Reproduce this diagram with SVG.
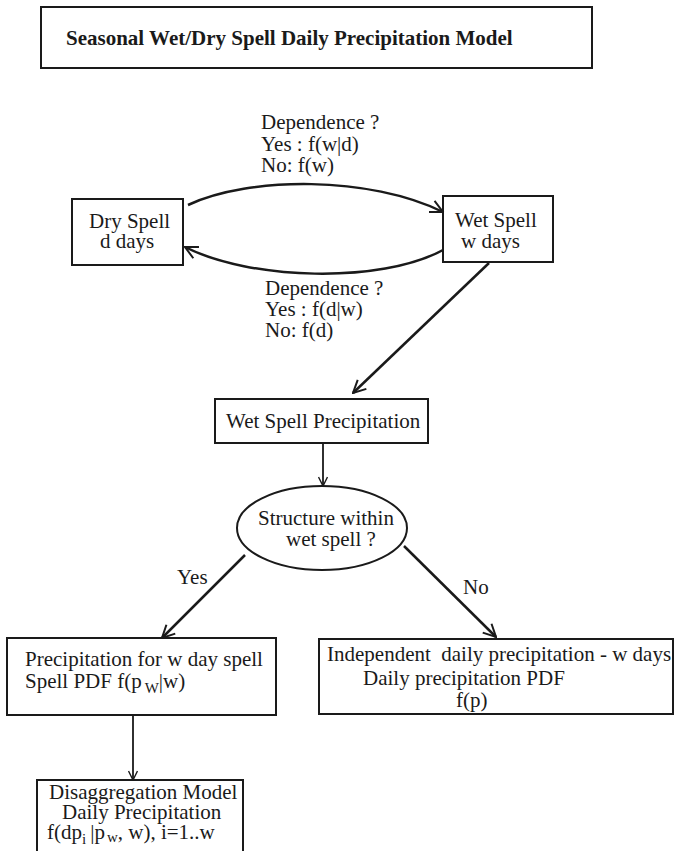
<svg xmlns="http://www.w3.org/2000/svg" width="674" height="851" viewBox="0 0 674 851">
<style>
.bg{fill:#ffffff}
.box{fill:none;stroke:#1a1a1a;stroke-width:2}
.t{font-family:"Liberation Serif","Times New Roman",serif;font-size:21px;fill:#1a1a1a}
.tb{font-family:"Liberation Serif","Times New Roman",serif;font-size:21px;font-weight:bold;fill:#1a1a1a}
.sub{font-size:15px}
.ln{fill:none;stroke:#1a1a1a;stroke-width:2.5}
.ln1{fill:none;stroke:#1a1a1a;stroke-width:1.8}
</style>
<defs>
<marker id="ah" viewBox="0 0 12 12" refX="11" refY="6" markerWidth="6" markerHeight="6" markerUnits="strokeWidth" orient="auto">
<path d="M1,1 L11,6 L1,11" fill="none" stroke="#1a1a1a" stroke-width="1.6"/>
</marker>
</defs>
<rect class="bg" x="0" y="0" width="674" height="851"/>

<g id="title">
<rect class="box" x="41" y="7" width="551" height="61"/>
<text class="tb" x="66" y="45">Seasonal Wet/Dry Spell Daily Precipitation Model</text>
</g>

<g id="dry">
<rect class="box" x="72" y="199" width="111" height="66"/>
<text class="t" x="89" y="228">Dry Spell</text>
<text class="t" x="100" y="248">d days</text>
</g>

<g id="wet">
<rect class="box" x="443" y="196" width="110" height="66"/>
<text class="t" x="455" y="227">Wet Spell</text>
<text class="t" x="461" y="248">w days</text>
</g>

<g id="wetprecip">
<rect class="box" x="215" y="399" width="213" height="44"/>
<text class="t" x="226" y="428">Wet Spell Precipitation</text>
</g>

<g id="structure">
<ellipse class="box" cx="322" cy="528" rx="85" ry="42"/>
<text class="t" x="258" y="525">Structure within</text>
<text class="t" x="286" y="546">wet spell ?</text>
</g>

<g id="spellpdf">
<rect class="box" x="7" y="638" width="269" height="77"/>
<text class="t" x="25" y="666">Precipitation for w day spell</text>
<text class="t" x="25" y="688">Spell PDF f(p<tspan class="sub" dx="3" dy="5">W</tspan><tspan dy="-5">|w)</tspan></text>
</g>

<g id="dailypdf">
<rect class="box" x="319" y="639" width="354" height="75"/>
<text class="t" x="327" y="661" xml:space="preserve">Independent  daily precipitation - w days</text>
<text class="t" x="363" y="685">Daily precipitation PDF</text>
<text class="t" x="456" y="707">f(p)</text>
</g>

<g id="disagg">
<rect class="box" x="37" y="780" width="206" height="90"/>
<text class="t" x="49" y="799">Disaggregation Model</text>
<text class="t" x="62" y="819">Daily Precipitation</text>
<text class="t" x="47" y="839">f(dp<tspan class="sub" dy="5">i</tspan><tspan dx="4" dy="-5">|p</tspan><tspan class="sub" dx="2" dy="3">w</tspan><tspan dy="-3">, w), i=1..w</tspan></text>
</g>

<g id="connectors">
<path class="ln" d="M188,205 C250,176 370,176 443,212" marker-end="url(#ah)"/>
<path class="ln" d="M443,250 C380,284 250,280 185,247" marker-end="url(#ah)"/>
<path class="ln" d="M489,263 L353,393" marker-end="url(#ah)"/>
<path class="ln1" d="M323,443 L323,486" marker-end="url(#ah)"/>
<path class="ln" d="M245,555 L162,638" marker-end="url(#ah)"/>
<path class="ln" d="M404,546 L496,637" marker-end="url(#ah)"/>
<path class="ln1" d="M133,715 L133,780" marker-end="url(#ah)"/>
</g>

<g id="labels">
<text class="t" x="261" y="129">Dependence ?</text>
<text class="t" x="261" y="151">Yes : f(w|d)</text>
<text class="t" x="261" y="172">No: f(w)</text>
<text class="t" x="265" y="295">Dependence ?</text>
<text class="t" x="265" y="316">Yes : f(d|w)</text>
<text class="t" x="265" y="337">No: f(d)</text>
<text class="t" x="177" y="584">Yes</text>
<text class="t" x="463" y="594">No</text>
</g>
</svg>
